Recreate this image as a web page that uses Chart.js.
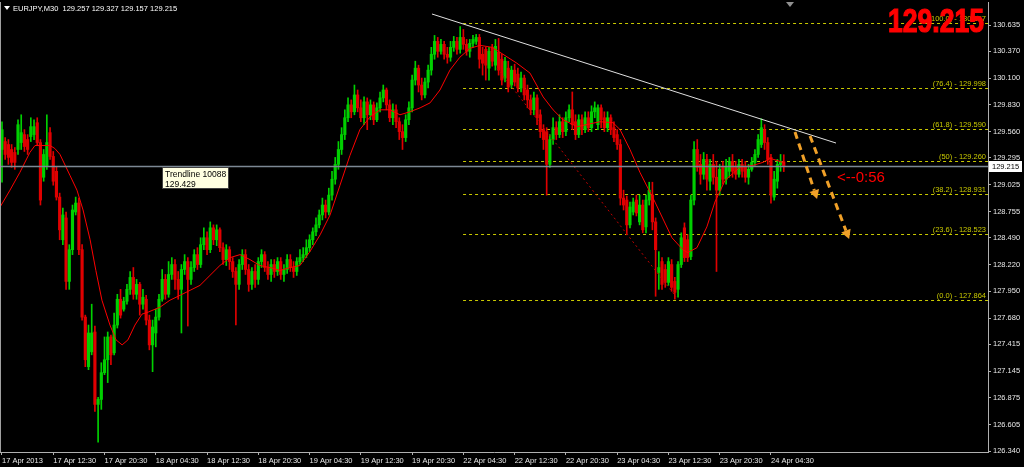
<!DOCTYPE html>
<html><head><meta charset="utf-8">
<script src="https://cdn.jsdelivr.net/npm/chart.js@4.4.0/dist/chart.umd.min.js"></script>
<style>html,body{margin:0;padding:0;background:#000;overflow:hidden}canvas{display:block}</style>
</head><body>
<canvas id="c" width="1024" height="467"></canvas>
<script>
// EURJPY M30, bar index 0 = first visible bar
const xTickBars = [0,16,32,48,64,80,96,112,128,144,160,176,192,208,224,240];
const xTickLabels = ["17 Apr 2013","17 Apr 12:30","17 Apr 20:30","18 Apr 04:30","18 Apr 12:30","18 Apr 20:30","19 Apr 04:30","19 Apr 12:30","19 Apr 20:30","22 Apr 04:30","22 Apr 12:30","22 Apr 20:30","23 Apr 04:30","23 Apr 12:30","23 Apr 20:30","24 Apr 04:30"];
const yTicks = [130.635,130.370,130.100,129.830,129.560,129.295,129.025,128.755,128.490,128.220,127.950,127.680,127.415,127.145,126.875,126.605,126.340];

const opens = [
129.38,129.46,129.43,129.38,129.35,129.38,129.45,129.53,129.48,129.51,
129.53,129.65,129.45,129.10,129.21,129.55,129.31,129.16,128.90,128.47,
128.69,128.05,128.37,128.75,128.84,128.37,127.69,127.19,127.34,127.54,
126.81,126.86,127.13,127.26,127.49,127.33,127.61,127.87,127.77,127.85,
127.97,128.09,127.92,128.02,127.82,127.87,127.66,127.41,127.53,127.69,
127.87,128.07,127.92,128.12,128.22,128.07,127.97,128.17,128.25,128.07,
128.19,128.32,128.22,128.42,128.49,128.37,128.59,128.47,128.57,128.39,
128.27,128.37,128.25,128.15,128.02,128.22,128.32,128.17,128.02,128.15,
128.07,128.25,128.32,128.19,128.12,128.22,128.15,128.25,128.12,128.17,
128.27,128.19,128.15,128.25,128.29,128.32,128.39,128.47,128.55,128.62,
128.72,128.82,128.75,128.92,129.08,129.23,129.38,129.53,129.70,129.83,
129.76,129.93,129.80,129.70,129.86,129.73,129.83,129.68,129.80,129.90,
129.98,129.83,129.70,129.78,129.66,129.56,129.50,129.68,129.80,130.08,
130.20,130.03,129.93,130.06,130.18,130.34,130.47,130.37,130.44,130.34,
130.31,130.41,130.47,130.39,130.51,130.44,130.37,130.45,130.47,130.51,
130.34,130.39,130.20,130.41,130.23,130.36,130.29,130.10,130.20,130.03,
130.18,130.14,130.00,130.10,129.98,129.88,129.78,129.90,129.73,129.58,
129.56,129.23,129.48,129.60,129.53,129.66,129.56,129.70,129.78,129.66,
129.53,129.68,129.58,129.70,129.60,129.76,129.63,129.80,129.70,129.60,
129.70,129.60,129.53,129.43,128.89,128.87,128.62,128.75,128.87,128.65,
128.82,128.60,128.87,128.92,128.65,128.14,128.25,128.17,128.04,128.22,
128.05,127.97,128.22,128.59,128.47,128.30,128.87,129.38,129.23,129.13,
129.28,129.06,129.23,129.10,128.97,129.20,129.08,129.16,129.26,129.20,
129.13,129.23,129.20,129.10,129.18,129.25,129.33,129.43,129.58,129.45,
129.30,128.90,129.06,129.23,129.257];
const highs = [
129.66,129.50,129.48,129.43,129.40,129.68,129.73,129.58,129.53,129.70,
129.68,129.70,129.48,129.38,129.73,129.60,129.36,129.20,128.94,128.79,
128.75,128.42,128.82,128.90,128.89,128.42,127.71,127.61,127.82,127.60,
126.88,127.23,127.49,127.54,127.51,127.73,127.92,127.97,127.89,128.02,
128.15,128.19,128.07,128.04,127.97,127.91,127.71,127.66,127.77,127.92,
128.17,128.12,128.25,128.29,128.27,128.15,128.22,128.32,128.29,128.25,
128.37,128.39,128.49,128.59,128.55,128.65,128.62,128.62,128.59,128.44,
128.42,128.40,128.29,128.19,128.27,128.37,128.37,128.22,128.19,128.22,
128.29,128.37,128.35,128.25,128.27,128.27,128.29,128.29,128.22,128.32,
128.32,128.25,128.29,128.37,128.39,128.47,128.52,128.59,128.69,128.77,
128.89,128.87,128.99,129.16,129.30,129.46,129.60,129.78,129.90,129.88,
130.03,129.98,129.88,129.91,129.90,129.88,129.86,129.85,129.96,130.03,
130.00,129.88,129.84,129.83,129.70,129.63,129.73,129.86,130.13,130.27,
130.23,130.10,130.10,130.23,130.41,130.53,130.51,130.49,130.47,130.41,
130.47,130.52,130.51,130.62,130.59,130.49,130.49,130.53,130.54,130.54,
130.41,130.41,130.41,130.44,130.49,130.50,130.34,130.31,130.27,130.22,
130.24,130.20,130.16,130.13,130.03,129.93,129.96,129.93,129.78,129.63,
129.60,129.53,129.70,129.66,129.73,129.70,129.76,129.83,129.96,129.73,
129.73,129.73,129.76,129.76,129.82,129.86,129.83,129.83,129.76,129.76,
129.73,129.66,129.58,129.48,128.97,128.91,128.85,128.89,128.92,128.92,
128.87,128.92,129.05,129.05,128.69,128.35,128.29,128.22,128.29,128.27,
128.09,128.25,128.54,128.64,128.52,128.92,129.46,129.48,129.33,129.35,
129.33,129.28,129.33,129.26,129.23,129.26,129.28,129.30,129.33,129.26,
129.28,129.28,129.26,129.23,129.30,129.38,129.53,129.69,129.63,129.50,
129.33,129.16,129.28,129.33,129.327];
const lows = [
129.05,129.28,129.23,129.20,129.18,129.33,129.38,129.36,129.33,129.46,
129.48,129.42,128.82,129.06,129.18,129.28,129.02,128.87,128.47,128.42,
127.97,127.97,128.32,128.72,128.32,127.66,127.19,127.16,127.31,126.74,
126.43,126.76,127.11,127.03,127.21,127.31,127.58,127.68,127.75,127.82,
127.92,127.87,127.87,127.71,127.77,127.61,127.36,127.14,127.39,127.66,
127.85,127.87,127.89,128.07,127.97,127.87,127.53,128.12,127.60,128.02,
128.15,128.17,128.19,128.37,128.32,128.34,128.42,128.41,128.35,128.22,
128.21,128.17,128.09,127.61,127.97,128.17,128.12,127.95,127.97,127.99,
128.02,128.19,128.15,128.07,128.05,128.09,128.11,128.07,128.05,128.13,
128.15,128.09,128.11,128.22,128.25,128.29,128.35,128.42,128.51,128.59,
128.67,128.69,128.72,128.87,129.03,129.18,129.33,129.48,129.66,129.70,
129.73,129.76,129.66,129.63,129.58,129.68,129.63,129.66,129.76,129.86,
129.78,129.66,129.63,129.60,129.48,129.38,129.46,129.63,129.76,130.03,
129.96,129.88,129.90,130.00,130.13,130.29,130.31,130.34,130.29,130.25,
130.27,130.37,130.34,130.35,130.39,130.33,130.31,130.41,130.44,130.20,
130.13,130.08,130.08,130.22,130.18,130.13,130.03,130.06,129.96,130.00,
130.02,129.96,129.96,129.88,129.80,129.73,129.73,129.63,129.50,129.38,
128.92,129.20,129.43,129.48,129.50,129.50,129.52,129.66,129.58,129.48,
129.50,129.53,129.55,129.56,129.56,129.70,129.58,129.60,129.56,129.56,
129.53,129.46,129.38,128.82,128.77,128.52,128.59,128.72,128.71,128.62,
128.54,128.54,128.82,128.57,127.90,127.97,127.97,127.99,128.01,127.95,
127.87,127.89,128.19,128.25,128.25,128.27,128.82,129.16,129.03,129.08,
128.97,128.97,129.03,128.15,128.92,129.03,129.03,129.10,129.10,129.08,
129.10,129.10,129.05,129.03,129.16,129.22,129.30,129.40,129.38,129.23,
128.84,128.87,128.99,129.16,129.157];
const closes = [
129.58,129.33,129.30,129.25,129.25,129.63,129.55,129.41,129.38,129.61,
129.61,129.45,128.87,129.33,129.45,129.31,129.06,128.90,128.57,128.72,
128.05,128.37,128.77,128.84,128.37,127.69,127.26,127.53,127.53,126.81,
126.86,127.13,127.26,127.49,127.31,127.61,127.87,127.71,127.85,127.97,
128.09,127.92,128.02,127.82,127.89,127.66,127.41,127.59,127.69,127.87,
128.07,127.92,128.12,128.22,128.07,127.97,128.17,128.25,128.07,128.19,
128.32,128.22,128.42,128.49,128.37,128.59,128.47,128.57,128.39,128.27,
128.37,128.25,128.15,128.02,128.22,128.32,128.17,128.02,128.15,128.07,
128.25,128.32,128.19,128.12,128.22,128.15,128.25,128.12,128.17,128.27,
128.19,128.15,128.25,128.29,128.32,128.39,128.47,128.55,128.62,128.72,
128.82,128.75,128.92,129.08,129.23,129.38,129.53,129.70,129.83,129.76,
129.93,129.80,129.70,129.86,129.73,129.83,129.68,129.80,129.90,129.98,
129.83,129.70,129.78,129.66,129.56,129.50,129.68,129.80,130.08,130.20,
130.03,129.93,130.06,130.18,130.34,130.47,130.37,130.44,130.34,130.31,
130.41,130.47,130.39,130.51,130.44,130.37,130.45,130.49,130.51,130.29,
130.25,130.23,130.37,130.27,130.42,130.18,130.08,130.27,130.01,130.18,
130.06,130.00,130.10,129.93,129.88,129.78,129.90,129.70,129.56,129.48,
129.23,129.48,129.60,129.53,129.66,129.56,129.70,129.78,129.63,129.53,
129.68,129.58,129.70,129.60,129.76,129.80,129.80,129.68,129.60,129.70,
129.58,129.50,129.43,128.89,128.82,128.62,128.80,128.85,128.74,128.82,
128.57,128.87,128.97,128.65,128.37,128.19,128.02,128.04,128.25,127.99,
127.94,128.22,128.49,128.29,128.29,128.87,129.38,129.20,129.13,129.28,
129.08,129.23,129.10,128.97,129.18,129.08,129.20,129.26,129.16,129.13,
129.23,129.16,129.10,129.18,129.25,129.33,129.48,129.60,129.45,129.28,
128.92,129.08,129.23,129.26,129.215];

// moving average (bar index, price)
const maBars = [-0.6,2.5,5.6,8.7,10.3,15.0,16.5,18.1,21.2,23.4,25.3,27.5,29.3,31.2,33.7,35.6,37.5,39.3,41.5,43.7,45.6,49.3,52.4,55.6,58.7,61.8,64.9,68.0,71.2,74.3,77.4,80.5,83.6,86.8,89.9,93.0,96.1,99.3,102.4,105.5,108.6,111.7,114.9,118.0,121.1,124.2,127.3,130.5,133.6,136.7,139.8,142.9,146.1,149.2,152.9,155.4,160.7,164.8,168.9,172.0,175.1,179.5,186.6,190.7,192.9,196.0,199.1,203.8,209.1,212.5,214.0,216.9,220.0,222.5,225.7,230.3,234.4,237.5,239.7,241.9,244.4];
const maValues = [128.80,128.97,129.15,129.35,129.42,129.42,129.39,129.33,129.12,128.97,128.77,128.47,128.16,127.86,127.61,127.46,127.41,127.46,127.61,127.72,127.74,127.79,127.86,127.91,127.96,128.01,128.11,128.21,128.29,128.32,128.27,128.21,128.19,128.16,128.19,128.21,128.35,128.52,128.72,129.02,129.32,129.58,129.71,129.78,129.78,129.73,129.76,129.80,129.85,129.98,130.18,130.31,130.40,130.43,130.41,130.36,130.25,130.15,129.91,129.78,129.68,129.61,129.66,129.65,129.58,129.38,129.15,128.85,128.49,128.37,128.34,128.39,128.60,128.85,129.07,129.20,129.22,129.25,129.29,129.27,129.24];

const fibLevels = ["100.0","76.4","61.8","50","38.2","23.6","0.0"];
const fibPrices = [130.657,129.998,129.590,129.260,128.931,128.523,127.864];
const fibStartBar = 143.9;
const trendBars = [134.2,260.3], trendPrices = [130.746,129.445];
const dotBars = [154.5,210.4], dotPrices = [130.201,127.893];
const arrow1Bars = [247.5,254.4], arrow1Prices = [129.556,128.880];
const arrow2Bars = [252.2,264.4], arrow2Prices = [129.516,128.477];
const headerText = "EURJPY,M30  129.257 129.327 129.157 129.215";
const timerText = "<--0:56";
const tipLines = ["Trendline 10088", "129.429"];

const yMin = 126.330, yMax = 130.867, xMin = -0.62, xMax = 307.74;
const UP = '#00d000', DOWN = '#e00000';
const F = 'Liberation Sans';

const bodyData = closes.map((c, i) => ({x: i, y: [opens[i], c]}));
const wickData = highs.map((h, i) => ({x: i, y: [lows[i], h]}));
const candleColor = closes.map((c, i) => c >= opens[i] ? UP : DOWN);

function px(chart, bar, price) {
  return [chart.scales.x.getPixelForValue(bar), chart.scales.y.getPixelForValue(price)];
}
function arrow(ctx, a, b) {
  ctx.save();
  ctx.strokeStyle = '#f0a028'; ctx.fillStyle = '#f0a028';
  ctx.lineWidth = 3; ctx.setLineDash([7, 5]);
  const ang = Math.atan2(b[1] - a[1], b[0] - a[0]);
  const e = [b[0] - 9 * Math.cos(ang), b[1] - 9 * Math.sin(ang)];
  ctx.beginPath(); ctx.moveTo(a[0], a[1]); ctx.lineTo(e[0], e[1]); ctx.stroke();
  ctx.setLineDash([]);
  ctx.beginPath();
  ctx.moveTo(b[0], b[1]);
  ctx.lineTo(e[0] + 5 * Math.sin(ang), e[1] - 5 * Math.cos(ang));
  ctx.lineTo(e[0] - 5 * Math.sin(ang), e[1] + 5 * Math.cos(ang));
  ctx.closePath(); ctx.fill();
  ctx.restore();
}

const deco = {
  id: 'deco',
  beforeDraw(chart) {
    const ctx = chart.ctx;
    ctx.save(); ctx.fillStyle = '#000'; ctx.fillRect(0, 0, chart.width, chart.height); ctx.restore();
  },
  beforeDatasetsDraw(chart) {
    const ctx = chart.ctx, area = chart.chartArea;
    ctx.save();
    ctx.strokeStyle = '#c8c800'; ctx.lineWidth = 1; ctx.setLineDash([3, 3]);
    const x0 = chart.scales.x.getPixelForValue(fibStartBar);
    fibPrices.forEach(p => {
      const y = Math.round(chart.scales.y.getPixelForValue(p)) + 0.5;
      ctx.beginPath(); ctx.moveTo(x0, y); ctx.lineTo(area.right, y); ctx.stroke();
    });
    ctx.restore();
  },
  afterDatasetsDraw(chart) {
    const ctx = chart.ctx, area = chart.chartArea;
    ctx.save();
    ctx.beginPath(); ctx.rect(area.left, area.top, area.right - area.left, area.bottom - area.top); ctx.clip();
    // white trend line
    let a = px(chart, trendBars[0], trendPrices[0]), b = px(chart, trendBars[1], trendPrices[1]);
    ctx.strokeStyle = '#e0e0e0'; ctx.lineWidth = 1;
    ctx.beginPath(); ctx.moveTo(a[0], a[1]); ctx.lineTo(b[0], b[1]); ctx.stroke();
    // red dotted line
    a = px(chart, dotBars[0], dotPrices[0]); b = px(chart, dotBars[1], dotPrices[1]);
    ctx.strokeStyle = '#c00000'; ctx.setLineDash([2, 3]);
    ctx.beginPath(); ctx.moveTo(a[0], a[1]); ctx.lineTo(b[0], b[1]); ctx.stroke();
    ctx.setLineDash([]);
    // bid line
    const yb = Math.round(chart.scales.y.getPixelForValue(closes[closes.length - 1])) + 0.5;
    ctx.strokeStyle = '#7c8894'; ctx.lineWidth = 1.5;
    ctx.beginPath(); ctx.moveTo(area.left, yb); ctx.lineTo(area.right, yb); ctx.stroke();
    // arrows
    arrow(ctx, px(chart, arrow1Bars[0], arrow1Prices[0]), px(chart, arrow1Bars[1], arrow1Prices[1]));
    arrow(ctx, px(chart, arrow2Bars[0], arrow2Prices[0]), px(chart, arrow2Bars[1], arrow2Prices[1]));
    // fib labels
    ctx.fillStyle = '#c8c800'; ctx.font = '7.5px ' + F; ctx.textAlign = 'right'; ctx.textBaseline = 'alphabetic';
    fibPrices.forEach((p, k) => {
      const y = chart.scales.y.getPixelForValue(p);
      ctx.fillText('(' + fibLevels[k] + ') - ' + p.toFixed(3), area.right - 2, y - 2);
    });
    // big price
    ctx.fillStyle = '#ff0000'; ctx.strokeStyle = '#ff0000'; ctx.lineWidth = 1.2;
    ctx.font = 'bold 34px ' + F; ctx.textAlign = 'left';
    const txt = closes[closes.length - 1].toFixed(3);
    const w = ctx.measureText(txt).width;
    ctx.save(); ctx.translate(888, 32); ctx.scale(96 / w, 1);
    ctx.fillText(txt, 0, 0); ctx.strokeText(txt, 0, 0); ctx.restore();
    // timer
    ctx.font = '15px ' + F; ctx.fillText(timerText, 837, 182);
    // header
    ctx.fillStyle = '#ffffff'; ctx.font = '7.5px ' + F;
    ctx.fillText(headerText, 13, 11);
    ctx.beginPath(); ctx.moveTo(4, 6); ctx.lineTo(10, 6); ctx.lineTo(7, 10); ctx.closePath(); ctx.fill();
    // shift marker
    ctx.fillStyle = '#909090';
    ctx.beginPath(); ctx.moveTo(786, 2); ctx.lineTo(794, 2); ctx.lineTo(790, 7); ctx.closePath(); ctx.fill();
    // tooltip box
    ctx.fillStyle = '#ffffe1'; ctx.fillRect(162, 167, 67, 22);
    ctx.strokeStyle = '#404040'; ctx.lineWidth = 1; ctx.strokeRect(162.5, 167.5, 66, 21);
    ctx.fillStyle = '#000'; ctx.font = '8.5px ' + F;
    ctx.fillText(tipLines[0], 165, 177); ctx.fillText(tipLines[1], 165, 187);
    ctx.restore();
    // frame + bid label on axis
    ctx.save();
    ctx.strokeStyle = '#a0a0a0'; ctx.lineWidth = 1;
    ctx.beginPath(); ctx.moveTo(0.5, area.top); ctx.lineTo(0.5, area.bottom); ctx.stroke();
    ctx.fillStyle = '#ffffff'; ctx.fillRect(area.right + 1, yb - 5.5, 33, 11);
    ctx.fillStyle = '#000'; ctx.font = '7.5px ' + F; ctx.textAlign = 'left'; ctx.textBaseline = 'middle';
    ctx.fillText(closes[closes.length - 1].toFixed(3), area.right + 4, yb);
    ctx.restore();
  }
};

new Chart(document.getElementById('c').getContext('2d'), {
  type: 'bar',
  data: {
    datasets: [
      {type: 'line', data: maBars.map((b, k) => ({x: b, y: maValues[k]})), borderColor: '#ff0000', borderWidth: 1, pointRadius: 0, tension: 0, order: 0},
      {data: bodyData, backgroundColor: candleColor, borderWidth: 0, barThickness: 2.5, minBarLength: 1, grouped: false, order: 1},
      {data: wickData, backgroundColor: candleColor, borderWidth: 0, barThickness: 1, grouped: false, order: 2}
    ]
  },
  plugins: [deco],
  options: {
    responsive: false, animation: false, devicePixelRatio: 1,
    layout: {padding: {top: 2, left: 0, right: 0, bottom: 0}},
    plugins: {legend: {display: false}, tooltip: {enabled: false}},
    scales: {
      x: {
        type: 'linear', min: xMin, max: xMax, offset: false,
        afterBuildTicks: s => { s.ticks = xTickBars.map(v => ({value: v})); },
        afterFit: s => { s.height = 15; s.paddingLeft = 0; s.paddingRight = 0; },
        ticks: {autoSkip: false, maxRotation: 0, minRotation: 0, align: 'start', color: '#e8e8e8', font: {family: F, size: 7.5}, padding: 1,
          callback: v => xTickLabels[xTickBars.indexOf(v)]},
        grid: {drawOnChartArea: false, offset: false, color: '#b0b0b0', tickLength: 3},
        border: {color: '#b0b0b0'}
      },
      y: {
        position: 'right', min: yMin, max: yMax,
        afterBuildTicks: s => { s.ticks = yTicks.map(v => ({value: v})); },
        afterFit: s => { s.width = 36; s.paddingTop = 0; s.paddingBottom = 0; },
        ticks: {autoSkip: false, color: '#e8e8e8', font: {family: F, size: 7.5}, padding: 2, callback: v => v.toFixed(3)},
        grid: {drawOnChartArea: false, color: '#b0b0b0', tickLength: 3},
        border: {color: '#b0b0b0'}
      }
    }
  }
});
</script>
</body></html>
